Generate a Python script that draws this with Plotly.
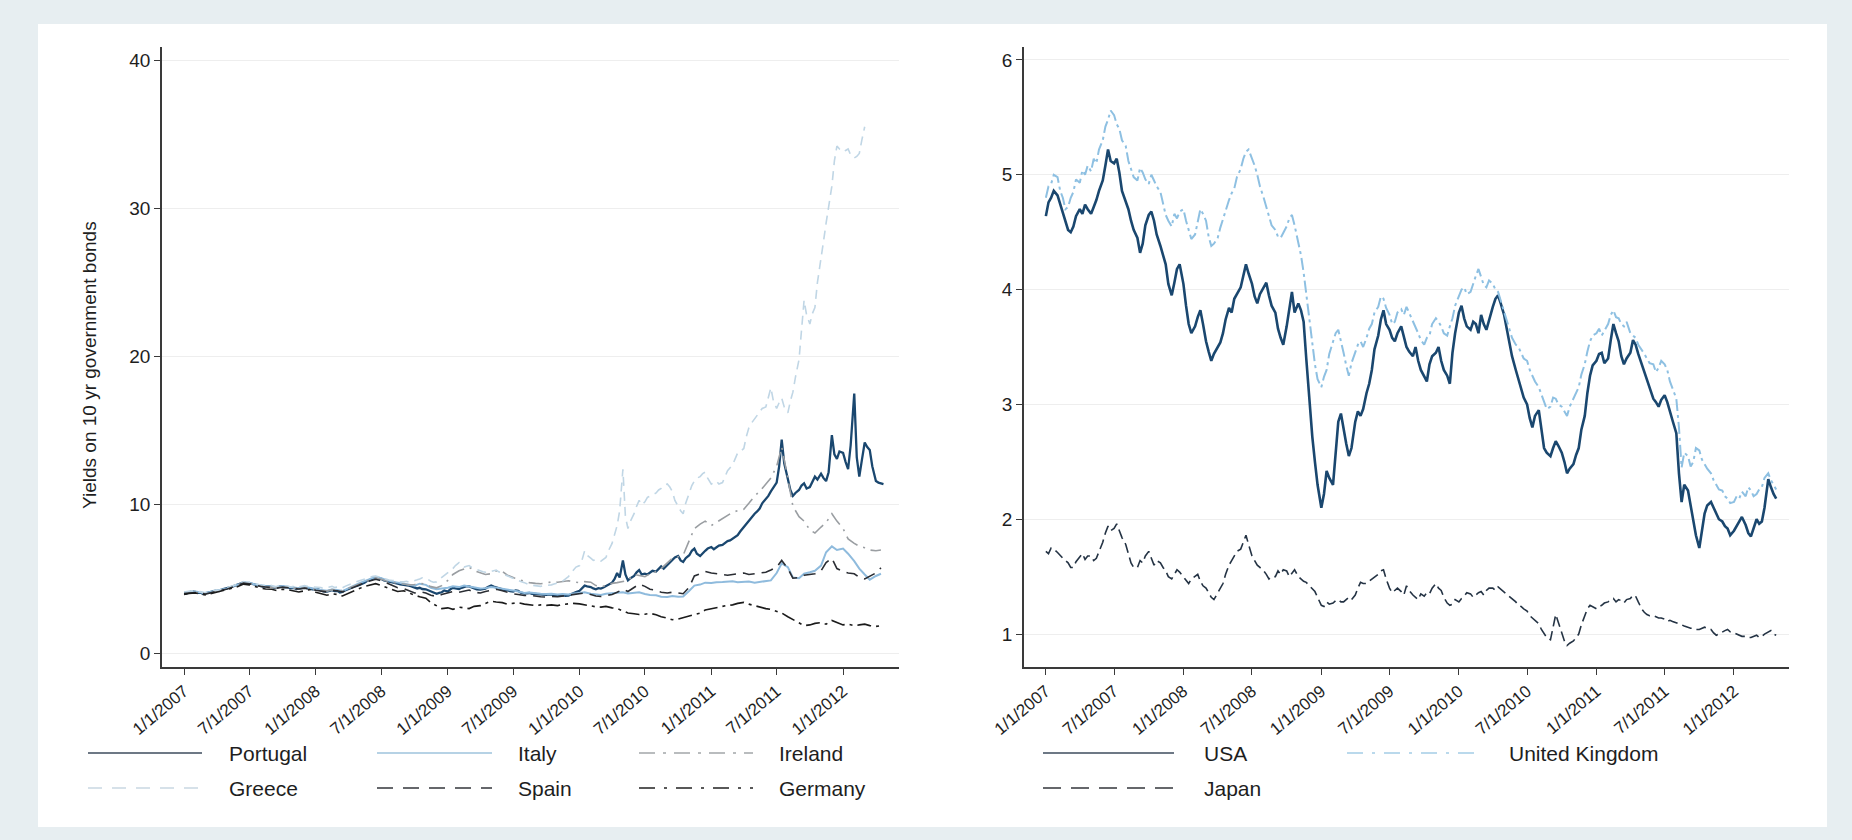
import pandas as pd
import plotly.graph_objects as go

# ---------------------------------------------------------------------------
# Data: 10-year government bond yields (%)
# most series are sampled twice a month, the busier ones about weekly
# ---------------------------------------------------------------------------
dates = pd.date_range("2007-01-01", periods=128, freq="SMS")
dates_weekly = [d for pair in zip(dates, dates + pd.Timedelta(days=7)) for d in pair]

tick_dates = ["2007-01-01", "2007-07-01", "2008-01-01", "2008-07-01",
              "2009-01-01", "2009-07-01", "2010-01-01", "2010-07-01",
              "2011-01-01", "2011-07-01", "2012-01-01"]
tick_labels = ["1/1/2007", "7/1/2007", "1/1/2008", "7/1/2008",
               "1/1/2009", "7/1/2009", "1/1/2010", "7/1/2010",
               "1/1/2011", "7/1/2011", "1/1/2012"]

# weekly
portugal = [
    4.05, 4.02, 4.10, 4.15, 4.12, 4.06, 4.08, 4.00, 4.02, 4.08, 4.10, 4.16, 4.22, 4.18, 4.28, 4.32,
    4.35, 4.42, 4.48, 4.55, 4.62, 4.70, 4.78, 4.70, 4.72, 4.66, 4.62, 4.58, 4.55, 4.48, 4.50, 4.52,
    4.48, 4.40, 4.42, 4.48, 4.50, 4.44, 4.45, 4.38, 4.40, 4.32, 4.35, 4.40, 4.42, 4.36, 4.38, 4.30,
    4.28, 4.30, 4.22, 4.16, 4.15, 4.22, 4.25, 4.18, 4.20, 4.08, 4.12, 4.22, 4.30, 4.38, 4.45, 4.52,
    4.60, 4.66, 4.75, 4.86, 4.95, 5.02, 5.10, 5.04, 5.00, 4.90, 4.85, 4.80, 4.75, 4.70, 4.68, 4.64,
    4.60, 4.62, 4.55, 4.50, 4.45, 4.36, 4.40, 4.32, 4.30, 4.22, 4.15, 4.05, 4.00, 4.06, 4.10, 4.22,
    4.15, 4.30, 4.40, 4.36, 4.32, 4.40, 4.45, 4.52, 4.50, 4.42, 4.38, 4.30, 4.28, 4.32, 4.35, 4.45,
    4.55, 4.48, 4.42, 4.36, 4.30, 4.24, 4.25, 4.18, 4.15, 4.22, 4.20, 4.08, 4.02, 4.06, 4.05, 4.00,
    3.98, 3.96, 3.95, 3.90, 3.92, 3.96, 3.95, 3.88, 3.90, 3.94, 3.92, 3.86, 3.88, 3.96, 4.05, 4.12,
    4.20, 4.40, 4.55, 4.50, 4.45, 4.36, 4.30, 4.38, 4.35, 4.42, 4.50, 4.62, 4.75, 5.00, 5.40, 5.10,
    6.25, 5.30, 4.90, 5.05, 5.20, 5.45, 5.60, 5.30, 5.35, 5.30, 5.40, 5.55, 5.50, 5.70, 5.85, 5.70,
    5.95, 6.10, 6.30, 6.45, 6.55, 6.25, 6.15, 6.40, 6.60, 6.90, 7.05, 6.70, 6.55, 6.75, 6.90, 7.05,
    7.15, 7.00, 7.10, 7.25, 7.30, 7.45, 7.55, 7.60, 7.70, 7.85, 7.95, 8.20, 8.50, 8.70, 8.95, 9.20,
    9.40, 9.55, 9.75, 10.10, 10.40, 10.60, 10.90, 11.20, 11.50, 12.60, 14.40, 12.80, 11.70, 11.00, 10.60, 10.80,
    11.00, 11.30, 11.45, 11.10, 11.20, 11.60, 11.90, 11.70, 12.10, 11.80, 11.60, 12.20, 14.70, 13.40, 13.10, 13.60,
    13.50, 12.90, 12.40, 14.00, 17.50, 13.20, 11.90, 13.00, 14.20, 13.90, 13.70, 12.60, 11.60, 11.50, 11.45, 11.40,
]
# weekly
greece = [
    4.12, 4.15, 4.16, 4.20, 4.18, 4.12, 4.14, 4.06, 4.08, 4.14, 4.16, 4.22, 4.26, 4.22, 4.32, 4.36,
    4.40, 4.46, 4.52, 4.60, 4.66, 4.74, 4.82, 4.74, 4.78, 4.70, 4.68, 4.64, 4.62, 4.56, 4.58, 4.60,
    4.56, 4.48, 4.50, 4.56, 4.58, 4.50, 4.52, 4.46, 4.50, 4.42, 4.46, 4.52, 4.55, 4.50, 4.52, 4.46,
    4.45, 4.46, 4.42, 4.36, 4.38, 4.46, 4.50, 4.42, 4.45, 4.36, 4.40, 4.50, 4.58, 4.64, 4.72, 4.80,
    4.88, 4.94, 5.00, 5.08, 5.12, 5.18, 5.20, 5.14, 5.10, 5.02, 4.98, 4.92, 4.90, 4.86, 4.85, 4.82,
    4.80, 4.84, 4.78, 4.82, 4.85, 4.94, 5.00, 5.08, 5.05, 4.92, 4.85, 4.78, 4.80, 4.96, 5.10, 5.25,
    5.40, 5.55, 5.70, 5.90, 6.10, 5.90, 5.80, 5.86, 5.90, 5.78, 5.70, 5.62, 5.55, 5.48, 5.45, 5.52,
    5.50, 5.56, 5.60, 5.48, 5.40, 5.28, 5.20, 5.12, 5.05, 4.96, 4.90, 4.82, 4.75, 4.66, 4.60, 4.58,
    4.55, 4.52, 4.50, 4.54, 4.55, 4.58, 4.60, 4.66, 4.70, 4.78, 4.85, 5.00, 5.15, 5.40, 5.60, 5.80,
    5.90, 6.30, 6.90, 6.60, 6.40, 6.25, 6.30, 6.22, 6.20, 6.30, 6.45, 6.90, 7.40, 8.00, 8.60, 9.60,
    12.40, 9.20, 8.40, 8.90, 9.40, 9.90, 10.30, 10.00, 10.20, 10.50, 10.60, 10.70, 10.80, 11.00, 11.10, 11.30,
    11.40, 11.20, 10.90, 10.30, 9.90, 9.60, 9.40, 10.10, 10.80, 11.30, 11.60, 11.80, 11.90, 12.10, 12.20, 11.80,
    11.40, 11.50, 11.60, 11.40, 11.50, 11.90, 12.30, 12.50, 12.70, 13.10, 13.50, 13.60, 13.80, 14.60, 15.20, 15.50,
    15.80, 16.00, 16.30, 16.50, 16.60, 17.20, 17.90, 17.00, 16.50, 16.90, 17.20, 16.60, 16.20, 17.00, 17.60, 18.60,
    19.80, 21.80, 23.80, 22.80, 22.20, 22.90, 23.30, 25.00, 26.50, 27.80, 29.00, 30.20, 31.50, 33.20, 34.20, 34.00,
    33.80, 33.90, 34.00, 33.60, 33.40, 33.50, 33.70, 34.60, 35.50, None, None, None, None, None, None, None,
]
# twice a month
italy = [
    4.08, 4.12, 4.15, 4.10, 4.05, 4.12, 4.22, 4.28, 4.36, 4.50, 4.62, 4.78,
    4.74, 4.64, 4.56, 4.52, 4.50, 4.44, 4.52, 4.46, 4.42, 4.38, 4.45, 4.40,
    4.30, 4.26, 4.20, 4.28, 4.25, 4.18, 4.38, 4.55, 4.72, 4.85, 5.00, 5.15,
    5.05, 4.92, 4.82, 4.75, 4.70, 4.62, 4.55, 4.68, 4.60, 4.40, 4.30, 4.35,
    4.40, 4.50, 4.45, 4.55, 4.48, 4.40, 4.35, 4.38, 4.45, 4.40, 4.35, 4.28,
    4.22, 4.15, 4.05, 4.08, 4.02, 4.00, 3.98, 4.00, 3.95, 3.98, 3.95, 4.02,
    4.05, 4.10, 4.00, 3.98, 3.92, 4.00, 4.02, 4.08, 4.10, 4.02, 4.05, 4.10,
    3.98, 3.92, 3.90, 3.80, 3.78, 3.85, 3.80, 3.82, 4.20, 4.55, 4.62, 4.75,
    4.72, 4.78, 4.80, 4.82, 4.85, 4.78, 4.80, 4.82, 4.75, 4.80, 4.85, 4.90,
    5.40, 6.05, 5.80, 5.10, 5.05, 5.35, 5.45, 5.55, 5.90, 6.80, 7.20, 6.95,
    7.05, 6.70, 6.20, 5.70, 5.30, 4.95, 5.20, 5.35,
]
ireland = [
    4.02, 4.06, 4.08, 4.04, 3.98, 4.06, 4.18, 4.24, 4.32, 4.45, 4.58, 4.74,
    4.70, 4.60, 4.52, 4.48, 4.46, 4.40, 4.48, 4.42, 4.38, 4.34, 4.40, 4.36,
    4.26, 4.22, 4.18, 4.28, 4.25, 4.20, 4.38, 4.52, 4.66, 4.80, 4.98, 5.08,
    4.98, 4.86, 4.78, 4.70, 4.66, 4.60, 4.62, 4.70, 4.65, 4.48, 4.40, 4.55,
    4.90, 5.30, 5.55, 5.70, 5.80, 5.55, 5.40, 5.30, 5.35, 5.55, 5.50, 5.25,
    5.10, 4.95, 4.85, 4.75, 4.70, 4.68, 4.72, 4.80, 4.78, 4.85, 4.88, 4.80,
    4.75, 4.82, 4.78, 4.55, 4.48, 4.55, 4.70, 4.75, 4.85, 4.90, 5.30, 5.25,
    5.15, 5.35, 5.50, 5.70, 6.10, 6.40, 6.50, 6.60, 7.60, 8.40, 8.70, 8.90,
    8.60, 8.80, 9.10, 9.30, 9.50, 9.60, 9.70, 10.10, 10.60, 10.90, 11.40, 11.80,
    12.60, 13.90, 11.80, 9.90, 9.20, 8.90, 8.30, 8.10, 8.50, 8.80, 9.40, 8.90,
    8.40, 7.70, 7.40, 7.20, 7.10, 6.95, 6.90, 6.95,
]
spain = [
    4.02, 4.06, 4.08, 4.04, 3.98, 4.06, 4.18, 4.24, 4.32, 4.44, 4.58, 4.72,
    4.68, 4.58, 4.50, 4.46, 4.44, 4.38, 4.45, 4.40, 4.36, 4.32, 4.38, 4.34,
    4.24, 4.18, 4.12, 4.22, 4.20, 4.12, 4.30, 4.45, 4.60, 4.74, 4.88, 4.98,
    4.88, 4.72, 4.55, 4.40, 4.35, 4.20, 4.05, 4.15, 4.05, 3.90, 3.82, 3.95,
    4.05, 4.15, 4.10, 4.20, 4.25, 4.10, 4.05, 4.15, 4.25, 4.30, 4.20, 4.10,
    4.00, 3.95, 3.88, 3.90, 3.82, 3.80, 3.78, 3.82, 3.80, 3.85, 3.88, 3.95,
    4.00, 4.05, 3.95, 3.85, 3.82, 3.90, 3.95, 4.10, 4.30, 4.15, 4.40, 4.65,
    4.50, 4.30, 4.25, 4.10, 4.05, 4.10, 4.05, 4.00, 4.45, 5.20, 5.35, 5.50,
    5.40, 5.35, 5.30, 5.25, 5.30, 5.35, 5.40, 5.30, 5.35, 5.40, 5.45, 5.60,
    5.80, 6.25, 5.70, 5.05, 5.10, 5.25, 5.30, 5.35, 5.55, 6.10, 6.40, 5.70,
    5.50, 5.40, 5.35, 5.10, 5.00, 5.20, 5.40, 5.75,
]
germany = [
    3.95, 4.02, 4.05, 4.00, 3.92, 4.00, 4.10, 4.18, 4.25, 4.38, 4.50, 4.65,
    4.60, 4.48, 4.38, 4.32, 4.30, 4.22, 4.30, 4.28, 4.20, 4.12, 4.20, 4.28,
    4.10, 4.00, 3.90, 4.00, 3.95, 3.85, 4.05, 4.20, 4.35, 4.50, 4.62, 4.68,
    4.55, 4.42, 4.28, 4.15, 4.20, 4.05, 3.90, 3.80, 3.70, 3.40, 3.20, 3.00,
    3.05, 2.95, 3.10, 3.05, 3.00, 3.15, 3.20, 3.35, 3.50, 3.45, 3.40, 3.30,
    3.35, 3.40, 3.30, 3.25, 3.20, 3.25, 3.22, 3.25, 3.20, 3.28, 3.30, 3.35,
    3.32, 3.25, 3.18, 3.12, 3.10, 3.15, 3.05, 3.00, 2.85, 2.70, 2.65, 2.60,
    2.62, 2.68, 2.58, 2.45, 2.35, 2.25, 2.30, 2.40, 2.50, 2.62, 2.70, 2.90,
    3.00, 3.10, 3.15, 3.22, 3.25, 3.35, 3.42, 3.30, 3.18, 3.10, 3.00, 2.95,
    2.80, 2.70, 2.45, 2.25, 2.05, 1.85, 1.90, 2.00, 2.05, 1.95, 2.20, 2.05,
    1.90, 1.95, 1.85, 1.90, 1.95, 1.85, 1.80, 1.85,
]

# weekly
usa = [
    4.64, 4.76, 4.80, 4.86, 4.82, 4.74, 4.68, 4.58, 4.52, 4.50, 4.55, 4.64, 4.70, 4.66, 4.74, 4.70,
    4.66, 4.72, 4.78, 4.86, 4.95, 5.08, 5.22, 5.12, 5.10, 5.14, 5.02, 4.86, 4.76, 4.70, 4.60, 4.52,
    4.45, 4.32, 4.40, 4.56, 4.65, 4.68, 4.60, 4.48, 4.38, 4.30, 4.22, 4.05, 3.95, 4.06, 4.18, 4.22,
    4.05, 3.86, 3.70, 3.62, 3.68, 3.76, 3.82, 3.70, 3.55, 3.46, 3.38, 3.44, 3.50, 3.54, 3.62, 3.74,
    3.84, 3.80, 3.92, 3.96, 4.02, 4.12, 4.22, 4.14, 4.05, 3.94, 3.88, 3.96, 4.02, 4.06, 3.95, 3.86,
    3.80, 3.66, 3.58, 3.52, 3.68, 3.84, 3.98, 3.80, 3.88, 3.82, 3.72, 3.40, 3.00, 2.72, 2.50, 2.30,
    2.10, 2.22, 2.42, 2.36, 2.30, 2.58, 2.85, 2.92, 2.78, 2.66, 2.55, 2.62, 2.85, 2.94, 2.90, 2.96,
    3.10, 3.18, 3.30, 3.48, 3.60, 3.74, 3.82, 3.70, 3.65, 3.58, 3.55, 3.62, 3.68, 3.60, 3.50, 3.46,
    3.42, 3.50, 3.38, 3.30, 3.25, 3.20, 3.35, 3.42, 3.45, 3.50, 3.38, 3.30, 3.25, 3.18, 3.45, 3.62,
    3.80, 3.86, 3.75, 3.68, 3.65, 3.72, 3.70, 3.62, 3.78, 3.70, 3.65, 3.74, 3.85, 3.92, 3.95, 3.88,
    3.78, 3.66, 3.55, 3.42, 3.30, 3.22, 3.15, 3.06, 3.00, 2.88, 2.80, 2.90, 2.95, 2.76, 2.62, 2.58,
    2.55, 2.62, 2.68, 2.64, 2.58, 2.50, 2.40, 2.44, 2.48, 2.56, 2.62, 2.78, 2.90, 3.10, 3.25, 3.34,
    3.38, 3.44, 3.45, 3.36, 3.40, 3.56, 3.70, 3.62, 3.55, 3.42, 3.35, 3.40, 3.45, 3.56, 3.52, 3.44,
    3.35, 3.28, 3.22, 3.14, 3.05, 3.02, 2.98, 3.04, 3.08, 3.02, 2.95, 2.86, 2.75, 2.40, 2.15, 2.30,
    2.25, 2.12, 2.00, 1.86, 1.75, 1.90, 2.05, 2.12, 2.15, 2.10, 2.05, 2.00, 1.98, 1.94, 1.92, 1.86,
    1.90, 1.94, 1.98, 2.02, 1.95, 1.88, 1.85, 1.92, 2.00, 1.96, 1.98, 2.10, 2.35, 2.28, 2.22, 2.18,
]
uk = [
    4.80, 4.90, 4.92, 5.00, 4.98, 4.86, 4.80, 4.70, 4.72, 4.80, 4.85, 4.96, 4.93, 5.04, 5.00, 5.08,
    5.03, 5.14, 5.10, 5.22, 5.30, 5.42, 5.48, 5.56, 5.52, 5.44, 5.40, 5.30, 5.25, 5.12, 5.05, 4.98,
    4.95, 5.06, 5.02, 4.96, 4.92, 5.00, 4.95, 4.90, 4.85, 4.74, 4.65, 4.60, 4.55, 4.66, 4.62, 4.68,
    4.70, 4.60, 4.52, 4.44, 4.48, 4.60, 4.70, 4.66, 4.60, 4.46, 4.38, 4.40, 4.45, 4.54, 4.62, 4.70,
    4.78, 4.84, 4.88, 4.98, 5.05, 5.14, 5.20, 5.22, 5.15, 5.08, 5.00, 4.90, 4.80, 4.72, 4.65, 4.56,
    4.52, 4.46, 4.45, 4.50, 4.55, 4.62, 4.65, 4.56, 4.42, 4.30, 4.15, 3.95, 3.70, 3.50, 3.35, 3.22,
    3.15, 3.24, 3.30, 3.44, 3.55, 3.62, 3.65, 3.56, 3.45, 3.34, 3.25, 3.36, 3.45, 3.52, 3.55, 3.50,
    3.58, 3.66, 3.70, 3.80, 3.85, 3.94, 3.92, 3.84, 3.78, 3.70, 3.72, 3.80, 3.83, 3.78, 3.85, 3.80,
    3.72, 3.68, 3.62, 3.56, 3.52, 3.58, 3.60, 3.70, 3.75, 3.72, 3.68, 3.62, 3.60, 3.68, 3.75, 3.86,
    3.95, 4.00, 4.02, 3.96, 3.98, 4.06, 4.12, 4.18, 4.10, 4.04, 4.02, 4.08, 4.05, 4.00, 3.98, 3.90,
    3.80, 3.72, 3.65, 3.58, 3.52, 3.50, 3.45, 3.40, 3.38, 3.30, 3.25, 3.20, 3.15, 3.08, 3.02, 2.96,
    2.98, 3.06, 3.05, 3.00, 2.98, 2.94, 2.90, 2.98, 3.05, 3.10, 3.15, 3.26, 3.35, 3.46, 3.55, 3.60,
    3.62, 3.66, 3.60, 3.64, 3.70, 3.78, 3.82, 3.76, 3.75, 3.70, 3.68, 3.72, 3.62, 3.60, 3.58, 3.52,
    3.48, 3.44, 3.40, 3.36, 3.35, 3.28, 3.32, 3.38, 3.35, 3.30, 3.20, 3.14, 3.05, 2.80, 2.45, 2.58,
    2.55, 2.46, 2.50, 2.62, 2.60, 2.52, 2.48, 2.44, 2.40, 2.34, 2.30, 2.26, 2.25, 2.20, 2.18, 2.14,
    2.15, 2.20, 2.18, 2.24, 2.20, 2.28, 2.25, 2.20, 2.22, 2.26, 2.28, 2.36, 2.40, 2.34, 2.30, 2.26,
]
japan = [
    1.72, 1.70, 1.75, 1.74, 1.71, 1.68, 1.66, 1.64, 1.62, 1.58, 1.58, 1.63, 1.67, 1.70, 1.65, 1.68,
    1.68, 1.64, 1.66, 1.72, 1.80, 1.88, 1.94, 1.90, 1.92, 1.96, 1.90, 1.84, 1.78, 1.70, 1.62, 1.58,
    1.58, 1.64, 1.62, 1.68, 1.72, 1.66, 1.60, 1.64, 1.62, 1.58, 1.55, 1.50, 1.48, 1.52, 1.56, 1.54,
    1.50, 1.47, 1.44, 1.48, 1.50, 1.52, 1.46, 1.42, 1.40, 1.36, 1.32, 1.30, 1.36, 1.40, 1.44, 1.52,
    1.60, 1.64, 1.68, 1.72, 1.74, 1.80, 1.86, 1.78, 1.68, 1.64, 1.60, 1.58, 1.55, 1.52, 1.48, 1.50,
    1.50, 1.55, 1.52, 1.56, 1.55, 1.50, 1.53, 1.56, 1.50, 1.48, 1.46, 1.45, 1.42, 1.40, 1.37, 1.32,
    1.25, 1.24, 1.28, 1.26, 1.27, 1.29, 1.30, 1.28, 1.28, 1.30, 1.32, 1.30, 1.34, 1.40, 1.45, 1.44,
    1.44, 1.46, 1.48, 1.50, 1.52, 1.55, 1.56, 1.48, 1.40, 1.36, 1.38, 1.40, 1.37, 1.34, 1.42, 1.38,
    1.34, 1.32, 1.30, 1.35, 1.33, 1.36, 1.35, 1.40, 1.44, 1.40, 1.38, 1.32, 1.27, 1.25, 1.26, 1.30,
    1.28, 1.31, 1.33, 1.36, 1.35, 1.32, 1.34, 1.36, 1.37, 1.34, 1.38, 1.40, 1.40, 1.38, 1.41, 1.39,
    1.36, 1.34, 1.32, 1.30, 1.28, 1.25, 1.24, 1.22, 1.20, 1.16, 1.14, 1.12, 1.09, 1.04, 1.00, 0.97,
    0.95, 1.06, 1.17, 1.10, 1.02, 0.94, 0.90, 0.92, 0.94, 0.97, 1.00, 1.08, 1.16, 1.22, 1.25, 1.24,
    1.22, 1.24, 1.25, 1.27, 1.28, 1.30, 1.31, 1.28, 1.30, 1.29, 1.27, 1.30, 1.31, 1.34, 1.33, 1.28,
    1.22, 1.19, 1.17, 1.16, 1.16, 1.15, 1.14, 1.14, 1.13, 1.11, 1.12, 1.11, 1.10, 1.09, 1.08, 1.07,
    1.06, 1.05, 1.05, 1.04, 1.04, 1.05, 1.06, 1.05, 1.04, 1.01, 0.99, 1.00, 1.02, 1.03, 1.04, 1.02,
    1.01, 1.00, 0.99, 0.98, 0.98, 0.97, 0.97, 0.98, 0.99, 0.97, 0.98, 1.00, 1.02, 1.03, 1.00, 0.99,
]

left_names = ["Portugal", "Italy", "Ireland", "Greece", "Spain", "Germany"]
right_names = ["USA", "United Kingdom", "Japan"]
y_title = "Yields on 10 yr government bonds"

# ---------------------------------------------------------------------------
# Styles
# ---------------------------------------------------------------------------
W, H = 1852, 840
FONT = "Liberation Sans, Arial, Helvetica, sans-serif"
TXT = "#1e1e1e"
AXIS = "#3a3a3a"
GRID = "#eeeeee"

styles = {
    "Portugal": dict(color="#1a476f", width=2.3, dash="solid"),
    "Italy": dict(color="#8fbbdd", width=2.0, dash="solid"),
    "Ireland": dict(color="#9a9ea2", width=1.6, dash="14px,6px,2px,6px"),
    "Greece": dict(color="#c0d6e5", width=1.6, dash="9px,6px"),
    "Spain": dict(color="#2a2d33", width=1.6, dash="12px,7px"),
    "Germany": dict(color="#1b1b1b", width=1.6, dash="14px,5px,3px,5px"),
    "USA": dict(color="#1a476f", width=2.6, dash="solid"),
    "United Kingdom": dict(color="#8ec0e2", width=2.0, dash="12px,4px,3px,4px"),
    "Japan": dict(color="#243344", width=1.6, dash="10px,5px"),
}
legend_styles = {
    "Portugal": dict(color="#3d4b5c", width=1.5, dash="solid"),
    "Italy": dict(color="#9ec3dc", width=1.5, dash="solid"),
    "Ireland": dict(color="#a3a6a9", width=1.5, dash="16px,8px,3px,8px"),
    "Greece": dict(color="#c9d8e2", width=1.5, dash="14px,10px"),
    "Spain": dict(color="#33363b", width=1.5, dash="16px,10px"),
    "Germany": dict(color="#222222", width=1.5, dash="16px,9px,3px,9px"),
    "USA": dict(color="#3d4b5c", width=1.5, dash="solid"),
    "United Kingdom": dict(color="#a4cde6", width=1.5, dash="16px,9px,3px,9px"),
    "Japan": dict(color="#33363b", width=1.5, dash="18px,10px"),
}


def fx(px):
    return px / W


def fy(py):
    return 1 - py / H


fig = go.Figure()

left_series = {"Portugal": (dates_weekly, portugal), "Italy": (dates, italy),
               "Ireland": (dates, ireland), "Greece": (dates_weekly, greece),
               "Spain": (dates, spain), "Germany": (dates, germany)}
for name in left_names:
    xs, vals = left_series[name]
    fig.add_trace(go.Scatter(x=xs, y=vals, mode="lines", name=name,
                             line=styles[name], xaxis="x", yaxis="y",
                             showlegend=False, connectgaps=False))

right_series = [usa, uk, japan]
for name, vals in zip(right_names, right_series):
    fig.add_trace(go.Scatter(x=dates_weekly, y=vals, mode="lines", name=name,
                             line=styles[name], xaxis="x2", yaxis="y2",
                             showlegend=False))

x_common = dict(
    type="date", tickmode="array", tickvals=tick_dates, ticktext=tick_labels,
    tickangle=-40, tickfont=dict(family=FONT, size=17, color=TXT),
    showgrid=False, zeroline=False, showline=True, linecolor=AXIS, linewidth=1.5,
    ticks="outside", ticklen=6, tickcolor=AXIS, tickwidth=1.2, automargin=False,
)
y_common = dict(
    tickfont=dict(family=FONT, size=19, color=TXT),
    showgrid=True, gridcolor=GRID, gridwidth=1, zeroline=False,
    showline=True, linecolor=AXIS, linewidth=1.5,
    ticks="outside", ticklen=6, tickcolor=AXIS, tickwidth=1.2, automargin=False,
)

y_dom = [fy(667), fy(47)]
fig.update_layout(
    template="none",
    width=W, height=H, autosize=False,
    margin=dict(l=0, r=0, t=0, b=0, pad=0, autoexpand=False),
    paper_bgcolor="#e7eef1", plot_bgcolor="white",
    showlegend=False,
    xaxis=dict(domain=[fx(162), fx(899)], anchor="y",
               range=["2006-11-01", "2012-06-04"], **x_common),
    yaxis=dict(domain=y_dom, anchor="x", range=[-0.94, 40.88],
               tickvals=[0, 10, 20, 30, 40], **y_common),
    xaxis2=dict(domain=[fx(1024), fx(1789)], anchor="y2",
                range=["2006-11-04", "2012-05-26"], **x_common),
    yaxis2=dict(domain=y_dom, anchor="x2", range=[0.713, 6.113],
                tickvals=[1, 2, 3, 4, 5, 6], **y_common),
)

# white graph region behind both panels
fig.add_shape(type="rect", xref="paper", yref="paper",
              x0=fx(38), x1=fx(1827), y0=fy(827), y1=fy(24),
              fillcolor="white", line=dict(width=0), layer="below")

# y-axis title of the left panel
fig.add_annotation(text=y_title, xref="paper", yref="paper",
                   x=fx(89), y=fy(365), textangle=-90, showarrow=False,
                   xanchor="center", yanchor="middle",
                   font=dict(family=FONT, size=19, color=TXT))

# legends drawn as key lines plus labels
left_keys = [
    ("Portugal", 88, 202, 227, 753), ("Italy", 377, 492, 516, 753),
    ("Ireland", 639, 753, 777, 753), ("Greece", 88, 202, 227, 788),
    ("Spain", 377, 492, 516, 788), ("Germany", 639, 753, 777, 788),
]
right_keys = [
    ("USA", 1043, 1174, 1202, 753), ("United Kingdom", 1347, 1477, 1507, 753),
    ("Japan", 1043, 1174, 1202, 788),
]
for name, x0, x1, xt, yk in left_keys + right_keys:
    fig.add_shape(type="line", xref="paper", yref="paper",
                  x0=fx(x0), x1=fx(x1), y0=fy(yk), y1=fy(yk),
                  line=legend_styles[name])
    fig.add_annotation(text=name, xref="paper", yref="paper",
                       x=fx(xt), y=fy(yk), xanchor="left", yanchor="middle",
                       showarrow=False,
                       font=dict(family=FONT, size=21, color=TXT))

fig.write_html("out.html")
